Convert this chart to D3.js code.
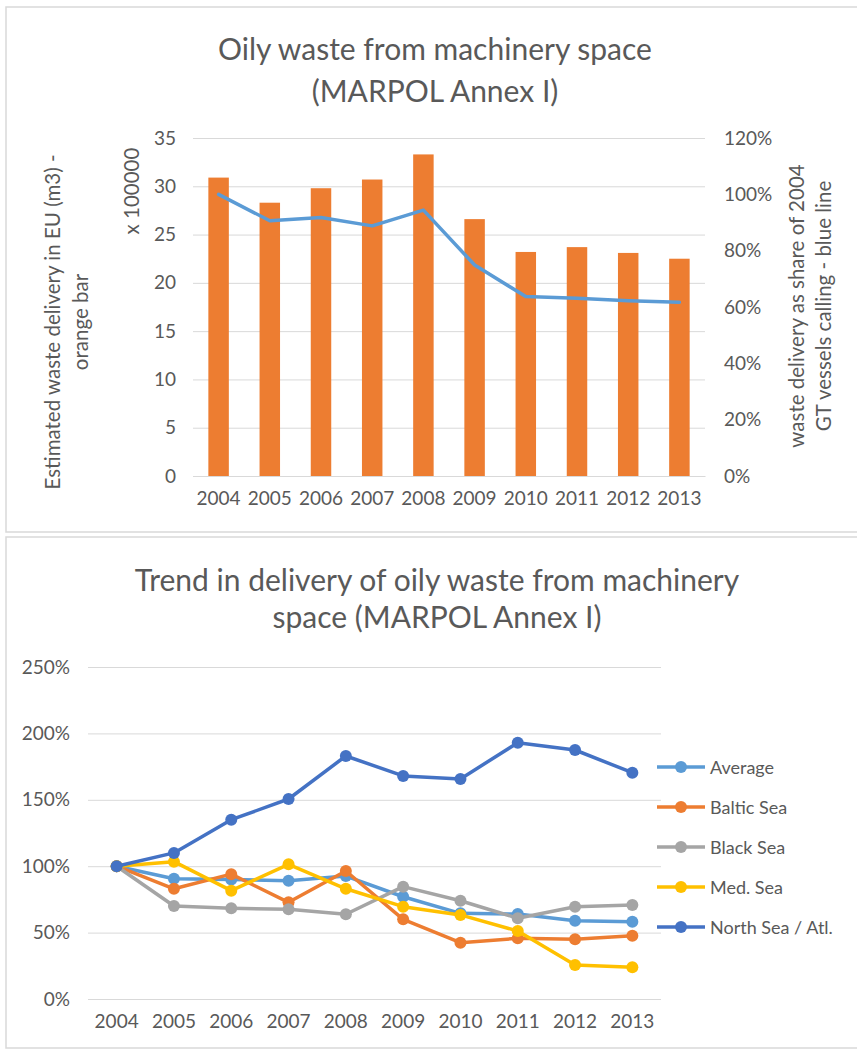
<!DOCTYPE html>
<html>
<head>
<meta charset="utf-8">
<script src="https://cdn.jsdelivr.net/npm/d3@7"></script>
<style>
  body { margin: 0; background: #fff; }
  text { font-family: Lato, "Open Sans", sans-serif; fill: #595959; }
</style>
</head>
<body>
<div id="main"></div>
<script>
// data
var years = ["2004","2005","2006","2007","2008","2009","2010","2011","2012","2013"];
var wasteDelivery = [30.9, 28.3, 29.8, 30.7, 33.3, 26.6, 23.2, 23.7, 23.1, 22.5]; // x 100000 m3
var shareOf2004 = [1.00, 0.906, 0.918, 0.888, 0.944, 0.749, 0.637, 0.631, 0.622, 0.617];
var leftTicks = [0, 5, 10, 15, 20, 25, 30, 35];
var rightTicks = [0, 0.2, 0.4, 0.6, 0.8, 1.0, 1.2];

var seriesNames = ["Average", "Baltic Sea", "Black Sea", "Med. Sea", "North Sea / Atl."];
var average   = [1.00, 0.906, 0.90, 0.89, 0.926, 0.77, 0.645, 0.64, 0.59, 0.582];
var baltic    = [1.00, 0.83, 0.94, 0.728, 0.964, 0.60, 0.424, 0.457, 0.45, 0.477];
var blackSea  = [1.00, 0.70, 0.683, 0.675, 0.638, 0.846, 0.74, 0.608, 0.695, 0.708];
var medSea    = [1.00, 1.034, 0.816, 1.014, 0.83, 0.695, 0.633, 0.512, 0.256, 0.239];
var northSea  = [1.00, 1.10, 1.35, 1.506, 1.83, 1.68, 1.657, 1.93, 1.875, 1.704];
var seriesColors = ["#5B9BD5", "#ED7D31", "#A5A5A5", "#FFC000", "#4472C4"];
var trendTicks = [0, 0.5, 1.0, 1.5, 2.0, 2.5];

var svg = d3.select("#main").append("svg")
    .attr("width", 857).attr("height", 1050);

var grid = "#d9d9d9";
var pct = d3.format(".0%");
var tickSize = "19px", titleSize = "30px", axisTitleSize = "20.5px";

// panel frames
svg.append("rect").attr("x", 6).attr("y", 7).attr("width", 860).attr("height", 525)
    .attr("fill", "none").attr("stroke", grid).attr("stroke-width", 1.5);
svg.append("rect").attr("x", 6).attr("y", 537).attr("width", 860).attr("height", 511)
    .attr("fill", "none").attr("stroke", grid).attr("stroke-width", 1.5);

// ---------- top chart ----------
var x1 = d3.scaleBand().domain(years).range([193, 705]).paddingInner(0.6).paddingOuter(0.3);
var yL = d3.scaleLinear().domain([0, 35]).range([476, 138]);
var yR = d3.scaleLinear().domain([0, 1.2]).range([476, 138]);

svg.append("text").attr("x", 435).attr("y", 60).attr("text-anchor", "middle")
    .style("font-size", titleSize).text("Oily waste from machinery space");
svg.append("text").attr("x", 435).attr("y", 102).attr("text-anchor", "middle")
    .style("font-size", titleSize).text("(MARPOL Annex I)");

var gL = svg.append("g").attr("transform", "translate(193,0)")
    .call(d3.axisLeft(yL).tickValues(leftTicks).tickSize(-512).tickPadding(17));
gL.select(".domain").remove();
gL.selectAll("line").attr("stroke", grid);
gL.selectAll("text").style("font-size", tickSize).style("fill", "#595959");

var gR = svg.append("g").attr("transform", "translate(705,0)")
    .call(d3.axisRight(yR).tickValues(rightTicks).tickSize(0).tickPadding(19).tickFormat(pct));
gR.select(".domain").remove();
gR.selectAll("text").style("font-size", tickSize).style("fill", "#595959");

var gX = svg.append("g").attr("transform", "translate(0,476)")
    .call(d3.axisBottom(x1).tickSize(0).tickPadding(16));
gX.select(".domain").attr("stroke", grid);
gX.selectAll("text").style("font-size", tickSize).style("fill", "#595959");

svg.selectAll(".bar").data(wasteDelivery).enter().append("rect")
    .attr("class", "bar")
    .attr("x", function(d, i) { return x1(years[i]); })
    .attr("width", x1.bandwidth())
    .attr("y", function(d) { return yL(d); })
    .attr("height", function(d) { return 476 - yL(d); })
    .attr("fill", "#ED7D31");

var line1 = d3.line()
    .x(function(d, i) { return x1(years[i]) + x1.bandwidth() / 2; })
    .y(function(d) { return yR(d); });
svg.append("path").datum(shareOf2004).attr("d", line1)
    .attr("fill", "none").attr("stroke", "#5B9BD5").attr("stroke-width", 3.5)
    .attr("stroke-linejoin", "round").attr("stroke-linecap", "round");

// axis titles
svg.append("text").attr("transform", "translate(60,322) rotate(-90)").attr("text-anchor", "middle")
    .style("font-size", axisTitleSize).text("Estimated waste delivery in EU (m3) -");
svg.append("text").attr("transform", "translate(88,322) rotate(-90)").attr("text-anchor", "middle")
    .style("font-size", axisTitleSize).text("orange bar");
svg.append("text").attr("transform", "translate(139,191) rotate(-90)").attr("text-anchor", "middle")
    .style("font-size", axisTitleSize).text("x 100000");
svg.append("text").attr("transform", "translate(804,306) rotate(-90)").attr("text-anchor", "middle")
    .style("font-size", axisTitleSize).text("waste delivery as share of 2004");
svg.append("text").attr("transform", "translate(831,306) rotate(-90)").attr("text-anchor", "middle")
    .style("font-size", axisTitleSize).text("GT vessels calling - blue line");

// ---------- bottom chart ----------
var x2 = d3.scaleBand().domain(years).range([88, 661]);
var y2 = d3.scaleLinear().domain([0, 2.5]).range([999, 667]);

svg.append("text").attr("x", 437).attr("y", 591).attr("text-anchor", "middle")
    .style("font-size", titleSize).text("Trend in delivery of oily waste from machinery");
svg.append("text").attr("x", 437).attr("y", 628).attr("text-anchor", "middle")
    .style("font-size", titleSize).text("space (MARPOL Annex I)");

var gY2 = svg.append("g").attr("transform", "translate(88,0)")
    .call(d3.axisLeft(y2).tickValues(trendTicks).tickSize(-573).tickPadding(18).tickFormat(pct));
gY2.select(".domain").remove();
gY2.selectAll("line").attr("stroke", grid);
gY2.selectAll("text").style("font-size", tickSize).style("fill", "#595959");

var gX2 = svg.append("g").attr("transform", "translate(0,999)")
    .call(d3.axisBottom(x2).tickSize(0).tickPadding(16));
gX2.select(".domain").remove();
gX2.selectAll("text").style("font-size", tickSize).style("fill", "#595959");

var allSeries = [average, baltic, blackSea, medSea, northSea];
var line2 = d3.line()
    .x(function(d, i) { return x2(years[i]) + x2.bandwidth() / 2; })
    .y(function(d) { return y2(d); });

allSeries.forEach(function(s, k) {
  var g = svg.append("g");
  g.append("path").datum(s).attr("d", line2)
      .attr("fill", "none").attr("stroke", seriesColors[k]).attr("stroke-width", 3.5)
      .attr("stroke-linejoin", "round");
  g.selectAll("circle").data(s).enter().append("circle")
      .attr("cx", function(d, i) { return x2(years[i]) + x2.bandwidth() / 2; })
      .attr("cy", function(d) { return y2(d); })
      .attr("r", 6)
      .attr("fill", seriesColors[k]);
});

// legend
var leg = svg.selectAll(".legend").data(seriesNames).enter().append("g")
    .attr("class", "legend")
    .attr("transform", function(d, i) { return "translate(657," + (767 + i * 40) + ")"; });
leg.append("line").attr("x1", 0).attr("x2", 48).attr("y1", 0).attr("y2", 0)
    .attr("stroke", function(d, i) { return seriesColors[i]; }).attr("stroke-width", 3.5);
leg.append("circle").attr("cx", 24).attr("cy", 0).attr("r", 6)
    .attr("fill", function(d, i) { return seriesColors[i]; });
leg.append("text").attr("x", 53).attr("y", 6.5).style("font-size", "18px")
    .text(function(d) { return d; });
</script>
</body>
</html>
